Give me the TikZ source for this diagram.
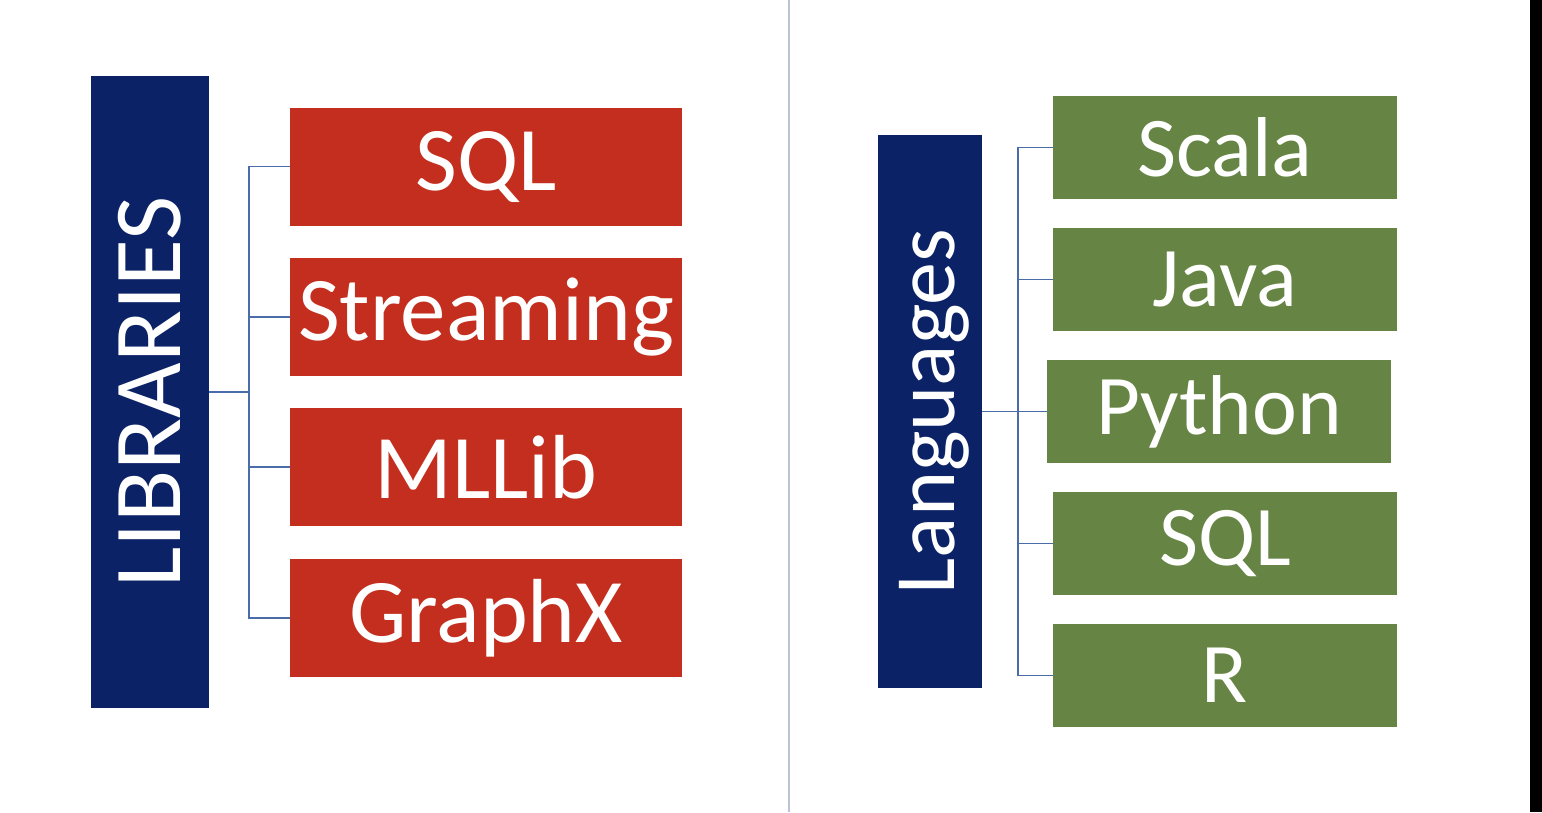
\documentclass[tikz,border=0pt]{standalone}
\usepackage{fontspec}
\setmainfont{Carlito}
\usetikzlibrary{positioning}
\definecolor{navy}{HTML}{0B2266}
\definecolor{sparkred}{HTML}{C32E1E}
\definecolor{langgreen}{HTML}{668443}
\definecolor{linkblue}{HTML}{4A6CA8}
\definecolor{divider}{HTML}{B9C5D6}

\begin{document}
\begin{tikzpicture}[
  x=1pt, y=-1pt,
  titlebar/.style={fill=navy, text=white, inner sep=0pt, rotate=90},
  libbox/.style={fill=sparkred, text=white, inner sep=0pt, minimum width=392pt,
               minimum height=118pt, font=\fontsize{91}{91}\selectfont},
  langbox/.style={fill=langgreen, text=white, inner sep=0pt, minimum width=344pt,
               minimum height=103pt, font=\fontsize{85}{85}\selectfont},
  link/.style={draw=linkblue, line width=1.3pt}
]
  \useasboundingbox (0,0) rectangle (1542,812);

  % Divider and right edge
  \draw[divider, line width=2pt] (789,0) -- (789,812);
  \fill[black] (1530,0) rectangle (1542,812);

  % Left: libraries
  \node[titlebar, minimum width=632pt, minimum height=118pt,
        font=\fontsize{96}{96}\selectfont] (lib) at (150, 392) {LIBRARIES};

  \node[libbox] (sql) at (486, 166.5) {SQL};
  \node[libbox] (stream) at (486, 317) {Streaming};
  \node[libbox] (mllib) at (486, 467) {MLLib};
  \node[libbox] (graphx) at (486, 618) {GraphX};

  \coordinate (libfork) at (249, 392);
  \draw[link] (lib.south) -- (libfork);
  \foreach \n in {sql, stream, mllib, graphx}
    \draw[link] (libfork) |- (\n.west);

  % Right: languages
  \node[titlebar, minimum width=553pt, minimum height=104pt, text height=60pt,
        text depth=12pt, font=\fontsize{86}{86}\selectfont] (lang) at (930, 411.5) {Languages};

  \node[langbox] (scala) at (1225, 147.5) {Scala};
  \node[langbox] (java) at (1225, 279.5) {Java};
  \node[langbox] (python) at (1219, 411.5) {Python};
  \node[langbox] (sqlang) at (1225, 543.5) {SQL};
  \node[langbox] (rlang) at (1225, 675.5) {R};

  \coordinate (langfork) at (1018, 411.5);
  \draw[link] (lang.south) -- (langfork);
  \foreach \n in {scala, java, python, sqlang, rlang}
    \draw[link] (langfork) |- (\n.west);

\end{tikzpicture}
\end{document}
